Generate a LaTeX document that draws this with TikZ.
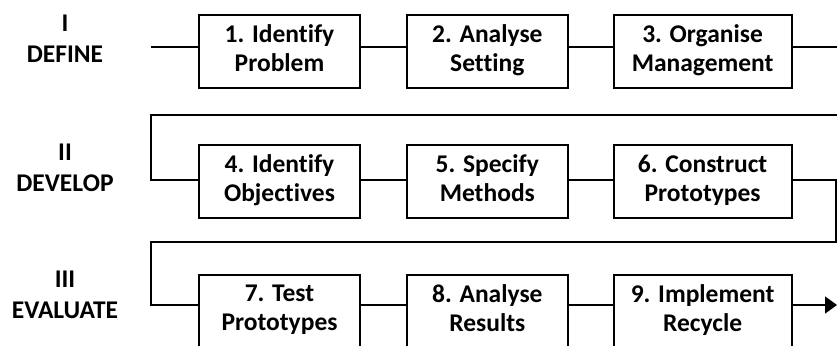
\documentclass[tikz,border=0pt]{standalone}
\usepackage{fontspec}
\setmainfont[Ligatures=NoCommon]{Carlito}
\usetikzlibrary{positioning,arrows.meta}
\tikzset{
  stepbox/.style={draw, line width=1.8pt, minimum width=161pt, minimum height=73pt, inner sep=0pt, align=center, font=\fontsize{25.5}{29}\selectfont\bfseries, execute at begin node={\rule{0pt}{30pt}}, execute at end node={\rule[-6.5pt]{0pt}{6.5pt}}},
  widebox/.style={stepbox, minimum width=178pt},
  phase/.style={align=center, inner sep=0pt, font=\fontsize{25.5}{31}\selectfont\bfseries},
  flow/.style={line width=1.8pt},
}

\begin{document}
\begin{tikzpicture}[x=1pt,y=-1pt]
  \useasboundingbox (0,0) rectangle (837,345);

  % phase labels
  \node[phase] (define) at (65,38.5) {I\\DEFINE};
  \node[phase] (develop) at (65,167.5) {II\\DEVELOP};
  \node[phase] (evaluate) at (65,295) {III\\EVALUATE};

  % row I
  \node[stepbox] (problem) at (279.5,51.5) {1. Identify\\Problem};
  \node[stepbox, right=45pt of problem] (setting) {2. Analyse\\Setting};
  \node[widebox, right=44pt of setting] (manage) {3. Organise\\Management};

  % row II
  \node[stepbox, below=55pt of problem] (objectives) {4. Identify\\Objectives};
  \node[stepbox, right=45pt of objectives] (methods) {5. Specify\\Methods};
  \node[widebox, right=44pt of methods] (construct) {6. Construct\\Prototypes};

  % row III
  \node[stepbox, below=55pt of objectives] (testing) {7. Test\\Prototypes};
  \node[stepbox, right=45pt of testing] (results) {8. Analyse\\Results};
  \node[widebox, right=44pt of results] (implement) {9. Implement\\Recycle};

  \coordinate (in1) at (151,47);
  \coordinate (out1) at (837,47);
  \coordinate (wrap1) at (837,115);
  \coordinate (in2) at (151,180);
  \coordinate (wrap2) at (836,242);
  \coordinate (in3) at (151,305);
  \coordinate (out3) at (837,305);

  \draw[flow] (in1) -- (problem.west |- in1);
  \draw[flow] (problem.east |- in1) -- (setting.west |- in1);
  \draw[flow] (setting.east |- in1) -- (manage.west |- in1);
  \draw[flow] (manage.east |- in1) -- (out1);

  \draw[flow] (wrap1) -| (in2) -- (objectives.west |- in2);
  \draw[flow] (objectives.east |- in2) -- (methods.west |- in2);
  \draw[flow] (methods.east |- in2) -- (construct.west |- in2);
  \draw[flow] (construct.east |- in2) -| (wrap2) -| (in3) -- (testing.west |- in3);

  \draw[flow] (testing.east |- in3) -- (results.west |- in3);
  \draw[flow] (results.east |- in3) -- (implement.west |- in3);
  \draw[flow, -{Triangle[length=12pt,width=17pt]}] (implement.east |- in3) -- (out3);
\end{tikzpicture}
\end{document}
